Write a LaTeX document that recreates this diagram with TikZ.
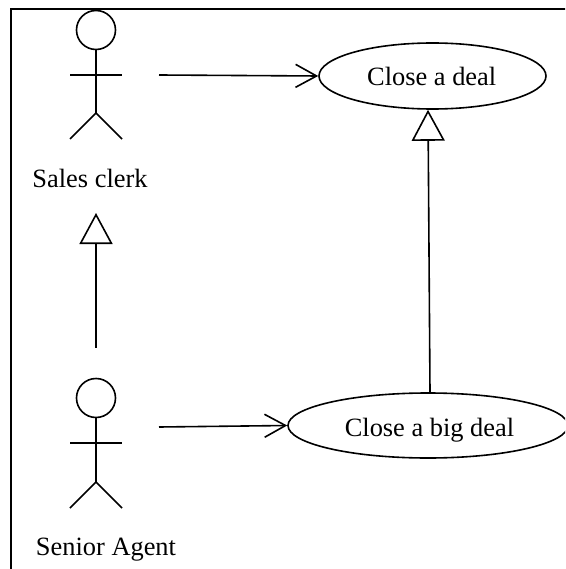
\documentclass[tikz,border=0pt]{standalone}
\usepackage{fontspec}
\setmainfont{Liberation Serif}
\usetikzlibrary{shapes.geometric,arrows.meta}
\tikzset{
  every picture/.style={x=1pt,y=-1pt},
  usecase/.style={ellipse,draw=black,line width=1.6pt,fill=white,inner sep=0pt,font=\fontsize{26.4pt}{30pt}\selectfont},
  label/.style={inner sep=0pt,anchor=base,font=\fontsize{26.4pt}{30pt}\selectfont},
  stroke/.style={draw=black,line width=1.6pt},
  assoc/.style={stroke,-{Straight Barb[length=21pt,width=23pt,line width=1.6pt]}},
  genz/.style={stroke,-{Triangle[open,fill=white,length=31pt,width=33pt,line width=1.6pt]}},
  head/.style={circle,draw=black,line width=1.6pt,minimum size=39pt,inner sep=0pt}
}
\begin{document}
\begin{tikzpicture}
\useasboundingbox (0,0) rectangle (565,569);
\clip (0,0) rectangle (565,569);
\fill[white] (0,0) rectangle (565,569);
\draw[black,line width=2.2pt] (11,590) -- (11,9) -- (590,9);
% use cases
\node[usecase,minimum width=227pt,minimum height=66pt] (deal) at (432.5,76) {};
\node[usecase,minimum width=280pt,minimum height=65pt] (big) at (428,425.5) {};
\node[label] (dealt) at (431.7,86) {Close a deal};
\node[label] (bigt) at (429.5,436) {Close a big deal};
% actor 1
\node[head] (h1) at (96,30) {};
\coordinate (hip1) at (96,113);
\coordinate (al1) at (70,75);
\coordinate (ar1) at (122,75);
\coordinate (ll1) at (70,139);
\coordinate (lr1) at (122,139);
\draw[stroke] (h1.south) -- (hip1);
\draw[stroke] (al1) -- (ar1);
\draw[stroke] (ll1) -- (hip1) -- (lr1);
\node[label] (clerk) at (90,187) {Sales clerk};
% actor 2
\node[head] (h2) at (96,398) {};
\coordinate (hip2) at (96,482);
\coordinate (al2) at (70,443);
\coordinate (ar2) at (122,443);
\coordinate (ll2) at (70,508);
\coordinate (lr2) at (122,508);
\draw[stroke] (h2.south) -- (hip2);
\draw[stroke] (al2) -- (ar2);
\draw[stroke] (ll2) -- (hip2) -- (lr2);
\node[label] (agent) at (106,555) {Senior Agent};
% connectors
\coordinate (s1) at (159,75);
\coordinate (s2) at (159,427);
\coordinate (g1) at (96,347.5);
\coordinate (g1t) at (96,213);
\draw[assoc] (s1) -- (deal.west);
\draw[assoc] (s2) -- (big.west);
\draw[genz] (g1) -- (g1t);
\draw[genz] (big.north -| 430,0) -- (deal.south -| 428,0);
\end{tikzpicture}
\end{document}
